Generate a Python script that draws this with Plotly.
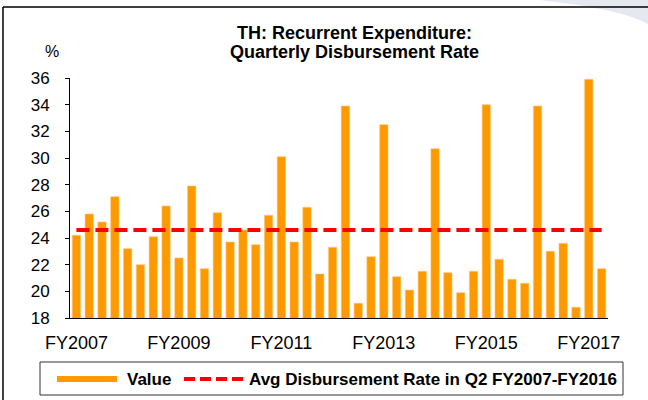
import plotly.graph_objects as go

# ---------------- data ----------------
years = ["FY2007", "FY2008", "FY2009", "FY2010", "FY2011", "FY2012",
         "FY2013", "FY2014", "FY2015", "FY2016", "FY2017"]
quarters = ["Q1", "Q2", "Q3", "Q4"]
categories = [f"{y} {q}" for y in years for q in quarters][:42]

values = [24.2, 25.8, 25.2, 27.1, 23.2, 22.0, 24.1, 26.4, 22.5, 27.9,
          21.7, 25.9, 23.7, 24.6, 23.5, 25.7, 30.1, 23.7, 26.3, 21.3,
          23.3, 33.9, 19.1, 22.6, 32.5, 21.1, 20.1, 21.5, 30.7, 21.4,
          19.9, 21.5, 34.0, 22.4, 20.9, 20.6, 33.9, 23.0, 23.6, 18.8,
          35.9, 21.7]

avg_q2_rate = 24.6

tick_label_cats = ["FY2007 Q1", "FY2009 Q1", "FY2011 Q1", "FY2013 Q1", "FY2015 Q1", "FY2017 Q1"]
tick_label_text = ["FY2007", "FY2009", "FY2011", "FY2013", "FY2015", "FY2017"]
y_ticks = [18, 20, 22, 24, 26, 28, 30, 32, 34, 36]

title_lines = ["TH: Recurrent Expenditure:", "Quarterly Disbursement Rate"]
legend_labels = ["Value", "Avg Disbursement Rate in Q2 FY2007-FY2016"]

# ---------------- layout geometry (pixels) ----------------
W, H = 648, 400
L, R, T, B = 70, 608, 78, 318


def px(x):
    return (x - L) / (R - L)


def py(y):
    return (B - y) / (B - T)


FONT = "Arial, Liberation Sans, sans-serif"
ORANGE = "#FF9900"
RED = "#FF0000"

fig = go.Figure()
fig.add_trace(go.Bar(
    x=categories, y=values, name=legend_labels[0],
    marker=dict(color=ORANGE, line=dict(color="#FFC870", width=0.6)),
    showlegend=False,
))
fig.add_trace(go.Scatter(
    x=categories, y=[avg_q2_rate] * len(categories), name=legend_labels[1],
    mode="lines", line=dict(color=RED, width=4, dash="13px,6px"),
    showlegend=False,
))

n = len(categories)
boundary_ticks = [-0.5 + 4 * k for k in range(11)]

fig.update_layout(
    width=W, height=H,
    margin=dict(l=L, r=W - R, t=T, b=H - B, pad=0),
    paper_bgcolor="white", plot_bgcolor="white",
    bargap=0.35,
    font=dict(family=FONT, color="black"),
    xaxis=dict(
        type="category", range=[-0.5, n - 0.5],
        showline=True, linecolor="black", linewidth=1,
        ticks="", tickvals=tick_label_cats, ticktext=tick_label_text,
        tickfont=dict(size=18, family=FONT, color="black"),
        ticklabelstandoff=8,
        showgrid=False, zeroline=False,
    ),
    xaxis2=dict(
        overlaying="x", anchor="y", side="bottom",
        range=[-0.5, n - 0.5], tickmode="array", tickvals=boundary_ticks,
        ticks="outside", ticklen=4, tickcolor="black", tickwidth=1,
        showticklabels=False, showline=False, showgrid=False, zeroline=False,
    ),
    yaxis=dict(
        range=[18, 36], tickvals=y_ticks,
        showline=True, linecolor="black", linewidth=1,
        ticks="outside", ticklen=4, tickcolor="black",
        tickfont=dict(size=17, family=FONT, color="black"),
        ticklabelstandoff=12,
        showgrid=False, zeroline=False,
    ),
)

annotations = [
    dict(x=px(354), y=py(33), text=f"<b>{title_lines[0]}</b>"),
    dict(x=px(354), y=py(52), text=f"<b>{title_lines[1]}</b>"),
]
for a in annotations:
    a.update(xref="paper", yref="paper", xanchor="center", yanchor="middle",
             showarrow=False, font=dict(size=18, family=FONT, color="black"))
annotations.append(dict(x=px(52), y=py(52), xref="paper", yref="paper", text="%",
                        xanchor="center", yanchor="middle", showarrow=False,
                        font=dict(size=16, family=FONT, color="black")))
annotations.append(dict(x=px(125), y=py(379), xref="paper", yref="paper",
                        text=f"<b>{legend_labels[0]}</b>", xanchor="left", yanchor="middle",
                        showarrow=False, font=dict(size=17, family=FONT, color="black")))
annotations.append(dict(x=px(247), y=py(379), xref="paper", yref="paper",
                        text=f"<b>{legend_labels[1]}</b>", xanchor="left", yanchor="middle",
                        showarrow=False, font=dict(size=17, family=FONT, color="black")))

shapes = [
    # decorative swoosh top right
    dict(type="path", xref="paper", yref="paper", layer="below",
         path=f"M {px(540)},{py(0)} C {px(590)},{py(6)} {px(625)},{py(12)} {px(648)},{py(24)} "
              f"L {px(648)},{py(0)} Z",
         fillcolor="#E6E8F1", line=dict(width=0)),
    # outer frame
    dict(type="line", xref="paper", yref="paper", x0=px(3), x1=px(648), y0=py(7), y1=py(7),
         line=dict(color="black", width=1.5)),
    dict(type="line", xref="paper", yref="paper", x0=px(3), x1=px(3), y0=py(7), y1=py(400),
         line=dict(color="black", width=1.5)),
    # legend box
    dict(type="rect", xref="paper", yref="paper", x0=px(40), x1=px(623), y0=py(362), y1=py(395),
         line=dict(color="#333333", width=1), fillcolor="white"),
    dict(type="rect", xref="paper", yref="paper", x0=px(57), x1=px(117), y0=py(376), y1=py(382),
         line=dict(width=0), fillcolor=ORANGE),
    dict(type="line", xref="paper", yref="paper", x0=px(184), x1=px(246), y0=py(379), y1=py(379),
         line=dict(color=RED, width=4, dash="11px,5px")),
]

fig.update_layout(annotations=annotations, shapes=shapes)

fig.write_html("out.html",
               config={"displayModeBar": False},
               post_script="document.body.style.margin='0px';document.body.style.overflow='hidden';")
